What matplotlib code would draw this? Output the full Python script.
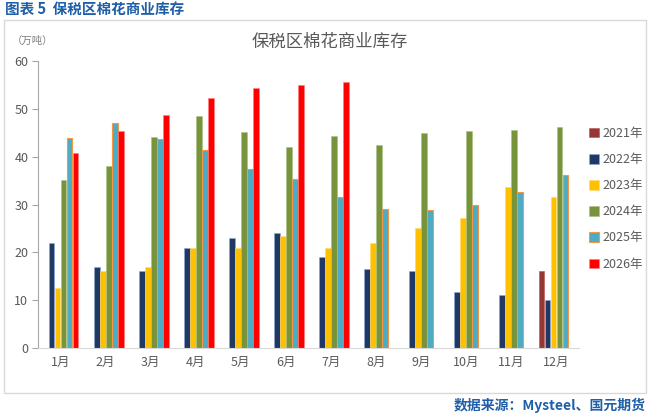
import matplotlib
matplotlib.use("Agg")
import matplotlib.pyplot as plt
from matplotlib.patches import Rectangle
import numpy as np

plt.rcParams['font.family'] = ['Noto Sans CJK SC', 'DejaVu Sans']

months = ["1月", "2月", "3月", "4月", "5月", "6月", "7月", "8月", "9月", "10月", "11月", "12月"]
series_names = ["2021年", "2022年", "2023年", "2024年", "2025年", "2026年"]
v2021 = [None, None, None, None, None, None, None, None, None, None, None, 16.1]
v2022 = [22.0, 17.0, 16.0, 21.0, 23.0, 24.0, 19.0, 16.5, 16.1, 11.7, 11.1, 10.0]
v2023 = [12.5, 16.0, 17.0, 21.0, 21.0, 23.5, 21.0, 22.0, 25.1, 27.1, 33.6, 31.6]
v2024 = [35.1, 38.1, 44.1, 48.6, 45.1, 42.0, 44.3, 42.4, 44.9, 45.3, 45.6, 46.3]
v2025 = [43.8, 47.1, 43.7, 41.3, 37.5, 35.3, 31.5, 29.1, 28.8, 29.9, 32.6, 36.1]
v2026 = [40.8, 45.4, 48.7, 52.2, 54.3, 54.9, 55.7, None, None, None, None, None]
yticks = [0, 10, 20, 30, 40, 50, 60]

colors = ["#953735", "#1F3864", "#FFC000", "#77933C", "#4BACC6", "#FF0000"]
edges = ["#C0504D", "#8EA9DB", "#FFD966", "#A9C47F", "#F79646", "#FF7F7F"]

fig = plt.figure(figsize=(6.51, 4.13), dpi=100)
W, H = 651, 413

# outer border
fig.patches.append(Rectangle((3.5 / W, 1 - 393 / H), (646 - 3.5) / W, (393 - 20) / H,
                             transform=fig.transFigure, fill=False, edgecolor="#D9D9D9",
                             linewidth=1.0))

ax = fig.add_axes([38 / W, 1 - 348 / H, (579 - 38) / W, (348 - 61) / H])
x = np.arange(len(months))
n = 6
bw = 0.133
all_series = [v2021, v2022, v2023, v2024, v2025, v2026]
handles = []
for i, (vals, name) in enumerate(zip(all_series, series_names)):
    xs = [xi + (i - (n - 1) / 2) * bw for xi, v in zip(x, vals) if v is not None]
    ys = [v for v in vals if v is not None]
    lw = 0.8 if i == 4 else 0.4
    b = ax.bar(xs, ys, width=bw * 0.97, color=colors[i], edgecolor=edges[i],
               linewidth=lw, label=name, zorder=2)
    handles.append(b)

ax.set_xlim(-0.5, len(months) - 0.5)
ax.set_ylim(0, 60)
ax.set_yticks(yticks)
ax.set_yticklabels([str(t) for t in yticks], color="#595959", fontsize=9)
ax.set_xticks(x)
ax.set_xticklabels(months, color="#595959", fontsize=9)
ax.tick_params(axis='x', length=0, pad=6)
ax.tick_params(axis='y', length=4, color="#A6A6A6", pad=3)
for s in ["top", "right"]:
    ax.spines[s].set_visible(False)
ax.spines["left"].set_color("#A6A6A6")
ax.spines["bottom"].set_color("#D9D9D9")

# legend
leg = fig.legend(handles=handles, labels=series_names, loc="upper left",
                 bbox_to_anchor=(584 / W, 1 - 122 / H), frameon=False,
                 fontsize=9, labelcolor="#595959", handlelength=0.8,
                 handleheight=0.8, handletextpad=0.3, labelspacing=1.05,
                 borderaxespad=0)

fig.text(5 / W, 1 - 10 / H, "图表 5  保税区棉花商业库存", color="#1F5FA8",
         fontsize=10.5, fontweight="bold", ha="left", va="center")
fig.text(330 / W, 1 - 42 / H, "保税区棉花商业库存", color="#595959",
         fontsize=12.5, ha="center", va="center")
fig.text(12 / W, 1 - 41 / H, "（万吨）", color="#7F7F7F", fontsize=7.5,
         ha="left", va="center")
fig.text(646 / W, 1 - 405 / H, "数据来源：Mysteel、国元期货", color="#1F5FA8",
         fontsize=10, fontweight="bold", ha="right", va="center")

fig.savefig("out.png", dpi=100)
